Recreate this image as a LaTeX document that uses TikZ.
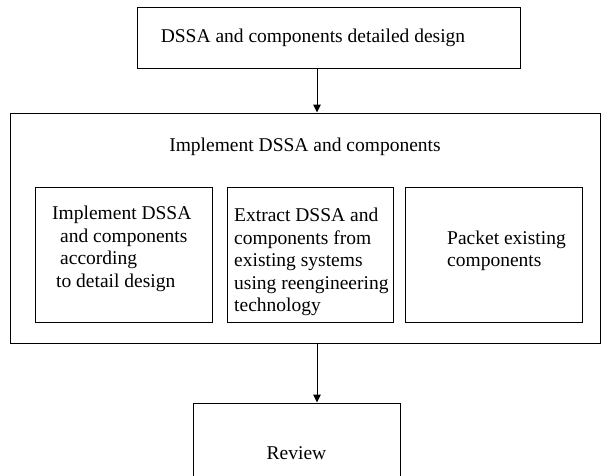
\documentclass[tikz,border=0pt]{standalone}
\usepackage{fontspec}
\setmainfont{Liberation Serif}
\usetikzlibrary{arrows.meta}

\begin{document}
\begin{tikzpicture}[x=1pt,y=-1pt,
    every node/.style={font=\fontsize{19.5}{22.5}\selectfont},
    stagebox/.style={draw=black,line width=1pt,inner sep=0pt},
    waytext/.style={anchor=west,align=left,inner sep=0pt},
    flow/.style={draw=black,line width=1pt,-{Triangle[length=8pt,width=7.5pt]}}]
  \useasboundingbox (0,0) rectangle (610,475);
  \coordinate (flowX) at (317,0);
  % Drawing boxes
  % Box 1: detailed design
  \node[stagebox,minimum width=383pt,minimum height=61pt] (design) at (328.5,37.5) {};
  \node (designText) at (313,37.5) {DSSA and components detailed design};
  % Box 2: implementation, with its three ways
  \node[stagebox,minimum width=590pt,minimum height=230pt] (impl) at (305,228) {};
  \node (implTitle) at (305,147) {Implement DSSA and components};
  \node[stagebox,minimum width=177pt,minimum height=135pt] (byDesign) at (123.5,254.5) {};
  \node[stagebox,minimum width=166pt,minimum height=135pt] (byReeng) at (310,254.5) {};
  \node[stagebox,minimum width=177pt,minimum height=135pt] (byPacket) at (493.5,254.5) {};
  \node[waytext] (byDesignText) at (52,249)
    {Implement DSSA\\\hspace*{8pt}and components\\\hspace*{8pt}according\\\hspace*{4pt}to detail design};
  \node[waytext] (byReengText) at (234,262)
    {Extract DSSA and\\components from\\existing systems\\using reengineering\\technology};
  \node[waytext] (byPacketText) at (447,251) {Packet existing\\components};
  % Box 3: review
  \node[stagebox,minimum width=207pt,minimum height=100pt] (review) at (296.5,453) {Review};
  % Done with boxes; drawing arrows
  \draw[flow] (design.south -| flowX) -- (impl.north -| flowX);
  \draw[flow] (impl.south -| flowX) -- (review.north -| flowX);
\end{tikzpicture}
\end{document}
